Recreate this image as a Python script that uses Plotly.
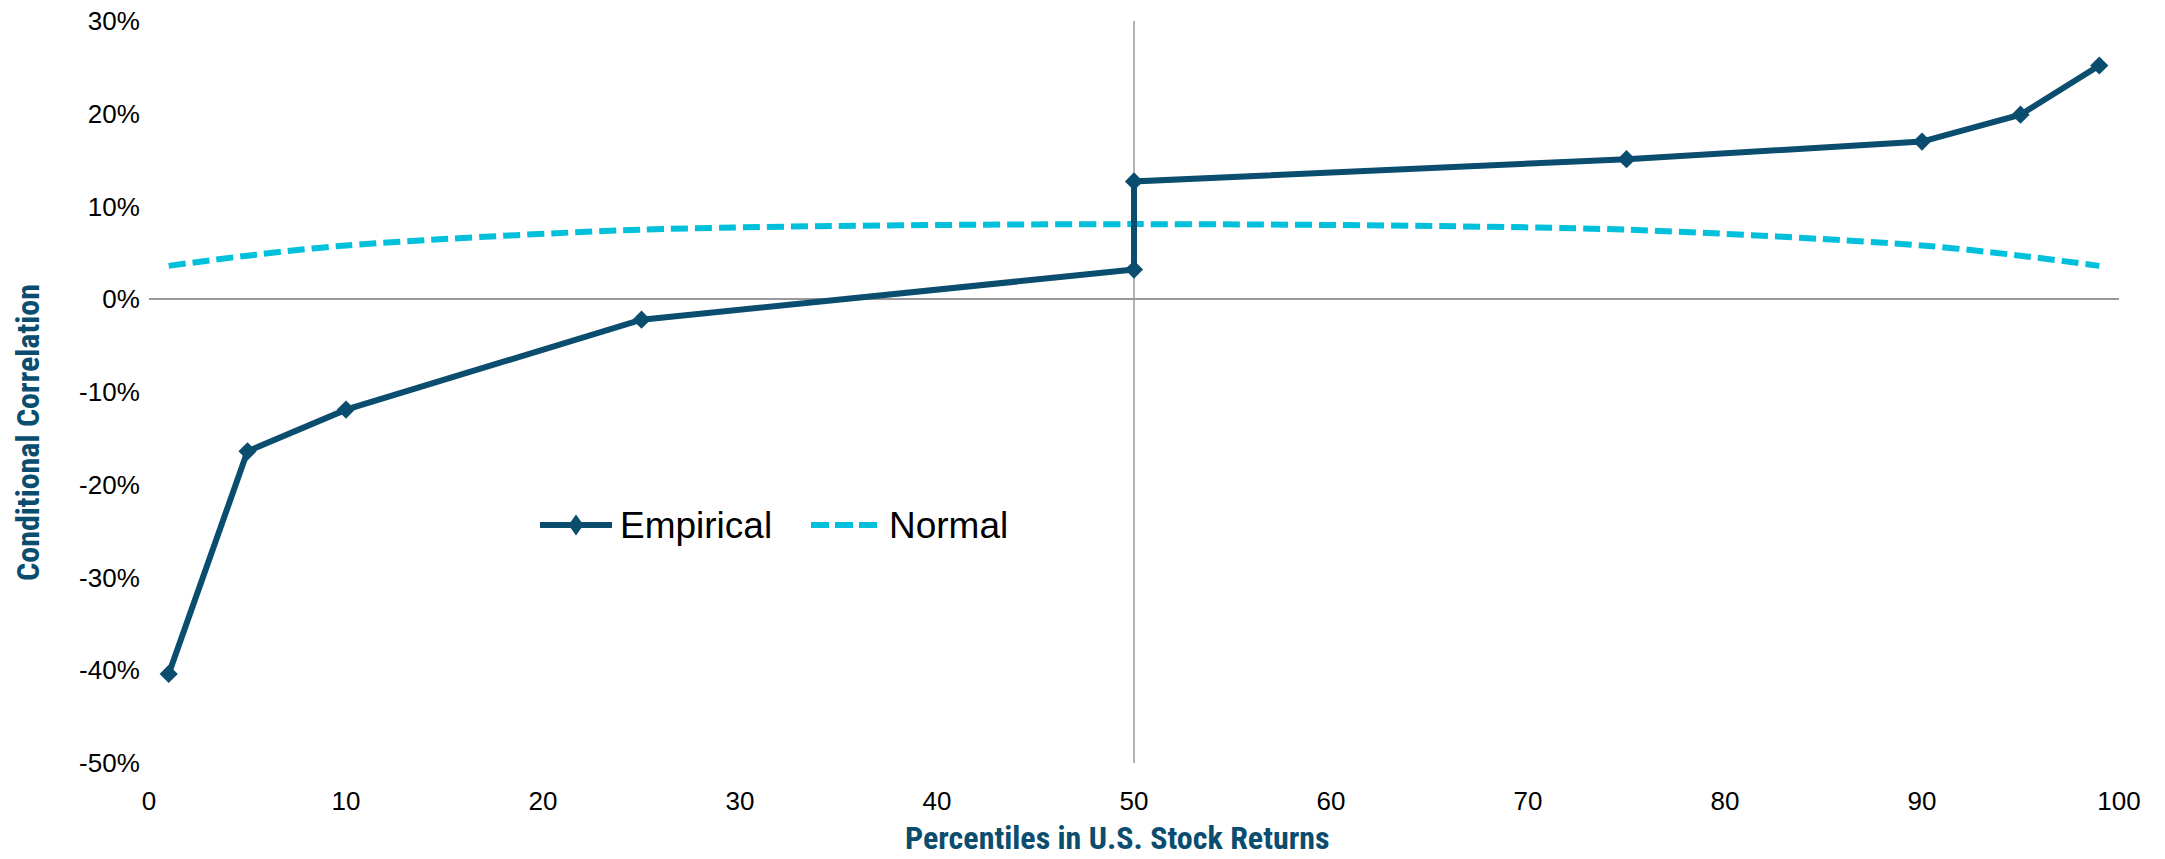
import plotly.graph_objects as go

# Percentile points of U.S. stock returns
emp_pct = [1, 5, 10, 25, 50, 50, 75, 90, 95, 99]
emp_corr = [-0.404, -0.164, -0.119, -0.022, 0.032, 0.127, 0.151, 0.170, 0.199, 0.252]

norm_pct = [1, 5, 10, 25, 50, 75, 90, 95, 99]
norm_corr = [0.036, 0.047, 0.058, 0.075, 0.081, 0.075, 0.058, 0.047, 0.036]

x_ticks = [0, 10, 20, 30, 40, 50, 60, 70, 80, 90, 100]
y_ticks = [-0.5, -0.4, -0.3, -0.2, -0.1, 0.0, 0.1, 0.2, 0.3]
y_tick_labels = ["-50%", "-40%", "-30%", "-20%", "-10%", "0%", "10%", "20%", "30%"]

DARK = "#0A4D6E"
CYAN = "#00C0DC"
AXIS_GRAY = "#9A9A9A"
TITLE_FONT = "Liberation Sans Narrow, Arial Narrow, Roboto Condensed, Liberation Sans, Arial, sans-serif"
TICK_FONT = "Liberation Sans, Arial, sans-serif"

W, H = 2165, 859
ML, MR, MT, MB = 149, 46, 21, 96
PW, PH = W - ML - MR, H - MT - MB


def px(x):
    """Pixel column -> paper x."""
    return (x - ML) / PW


def py(y):
    """Pixel row -> paper y."""
    return (H - MB - y) / PH


fig = go.Figure()

fig.add_trace(go.Scatter(
    x=norm_pct, y=norm_corr, name="Normal", mode="lines", showlegend=False,
    line=dict(color=CYAN, width=6, dash="17px,7px", shape="spline", smoothing=0.8),
))

fig.add_trace(go.Scatter(
    x=emp_pct, y=emp_corr, name="Empirical", mode="lines+markers", showlegend=False,
    line=dict(color=DARK, width=6),
    marker=dict(symbol="diamond", size=14, color=DARK),
))

LEG_Y = 525

shapes = [
    # vertical axis crossing at the median percentile
    dict(type="line", xref="x", yref="y", x0=50, x1=50, y0=-0.5, y1=0.3,
         line=dict(color=AXIS_GRAY, width=1.5), layer="below"),
    # legend: Empirical sample
    dict(type="line", xref="paper", yref="paper", x0=px(540), x1=px(612),
         y0=py(LEG_Y), y1=py(LEG_Y), line=dict(color=DARK, width=6)),
    dict(type="path", xref="paper", yref="paper", xsizemode="pixel", ysizemode="pixel",
         xanchor=px(576), yanchor=py(LEG_Y), path="M0,10.5 L7.5,0 L0,-10.5 L-7.5,0 Z",
         fillcolor=DARK, line=dict(color=DARK, width=0)),
    # legend: Normal sample
    dict(type="line", xref="paper", yref="paper", x0=px(811), x1=px(877),
         y0=py(LEG_Y), y1=py(LEG_Y), line=dict(color=CYAN, width=6, dash="18px,6px")),
]

annotations = [
    dict(text="Empirical", xref="paper", yref="paper", x=px(618), y=py(LEG_Y),
         xanchor="left", yanchor="middle", showarrow=False,
         font=dict(family=TICK_FONT, size=37, color="#000000")),
    dict(text="Normal", xref="paper", yref="paper", x=px(887), y=py(LEG_Y),
         xanchor="left", yanchor="middle", showarrow=False,
         font=dict(family=TICK_FONT, size=37, color="#000000")),
    dict(text="<b>Percentiles in U.S. Stock Returns</b>", xref="paper", yref="paper",
         x=px(1117), y=py(838), xanchor="center", yanchor="middle", showarrow=False,
         font=dict(family=TITLE_FONT, size=32, color=DARK)),
    dict(text="<b>Conditional Correlation</b>", xref="paper", yref="paper",
         x=px(28), y=py(433), xanchor="center", yanchor="middle", showarrow=False,
         textangle=-90, font=dict(family=TITLE_FONT, size=32, color=DARK)),
]

fig.update_layout(
    width=W, height=H,
    margin=dict(l=ML, r=MR, t=MT, b=MB),
    paper_bgcolor="white", plot_bgcolor="white",
    showlegend=False,
    shapes=shapes,
    annotations=annotations,
    xaxis=dict(
        range=[0, 100], tickvals=x_ticks, showgrid=False, zeroline=False,
        showline=False, ticks="outside", ticklen=15, tickcolor="rgba(0,0,0,0)",
        tickfont=dict(family=TICK_FONT, size=26, color="#000000"),
        automargin=False,
    ),
    yaxis=dict(
        range=[-0.5, 0.3], tickvals=y_ticks, ticktext=y_tick_labels, showgrid=False,
        zeroline=True, zerolinecolor=AXIS_GRAY, zerolinewidth=1.5,
        showline=False, ticks="outside", ticklen=3, tickcolor="rgba(0,0,0,0)",
        tickfont=dict(family=TICK_FONT, size=26, color="#000000"),
        automargin=False,
    ),
)

fig.write_html("out.html")
